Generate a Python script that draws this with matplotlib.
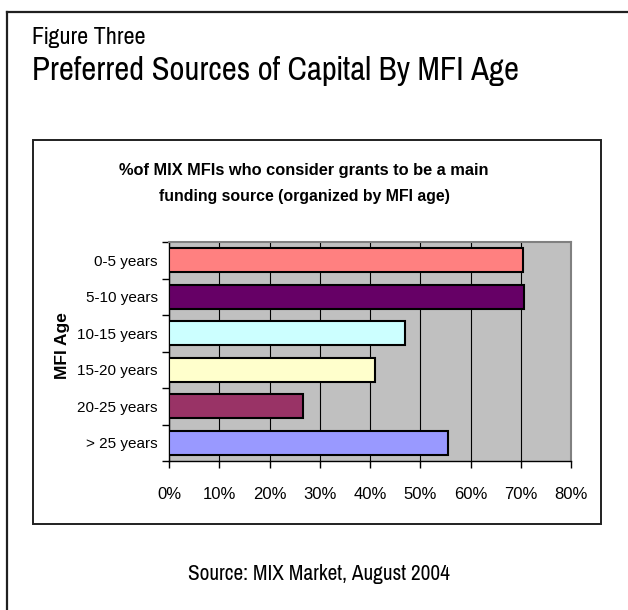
import matplotlib
matplotlib.use("Agg")
import matplotlib.pyplot as plt
from matplotlib import font_manager
from matplotlib.font_manager import FontProperties
from matplotlib.textpath import TextPath
from matplotlib.patches import Rectangle
from matplotlib.lines import Line2D
import numpy as np

categories = ["0-5 years", "5-10 years", "10-15 years", "15-20 years", "20-25 years", "> 25 years"]
values = [70.4, 70.7, 46.9, 40.9, 26.6, 55.5]
colors = ["#FF8080", "#660066", "#CCFFFF", "#FFFFCC", "#993366", "#9999FF"]
xticks = [0, 10, 20, 30, 40, 50, 60, 70, 80]
xtick_labels = [f"{v}%" for v in xticks]

TITLE = "Preferred Sources of Capital By MFI Age"

names = {f.name for f in font_manager.fontManager.ttflist}
candidates = ["Liberation Sans Narrow", "Arial Narrow", "Pragati Narrow", "Roboto Condensed",
              "Archivo Narrow", "PT Sans Narrow", "Fira Sans Condensed", "IBM Plex Sans Condensed",
              "Encode Sans Condensed", "Open Sans Condensed", "Sofia Sans Condensed",
              "Barlow Semi Condensed", "Asap Condensed", "Roboto", "Liberation Sans"]


def cap_ratio(family):
    # ratio of cap height to text width for the title, measured on glyph outlines
    prop = FontProperties(family=family)
    w = TextPath((0, 0), TITLE, size=100, prop=prop).get_extents().width
    h = TextPath((0, 0), "P", size=100, prop=prop).get_extents().height
    return h / w


target_ratio = 23.0 / 486.0
narrow = "Liberation Sans"
best = None
for cand in candidates:
    if cand not in names:
        continue
    try:
        r = cap_ratio(cand)
    except Exception:
        continue
    err = abs(np.log(r / target_ratio))
    if best is None or err < best:
        best = err
        narrow = cand
sans = "Liberation Sans"

W, H = 628, 610
fig = plt.figure(figsize=(W / 100, H / 100), dpi=100)
fig.patch.set_facecolor("white")


def fx(x):
    return x / W


def fy(y):
    return 1 - y / H


# outer frame
fig.add_artist(Line2D([fx(7), fx(628)], [fy(12), fy(12)], color="#202020", lw=1.6, transform=fig.transFigure))
fig.add_artist(Line2D([fx(7), fx(7)], [fy(12), fy(610)], color="#202020", lw=1.6, transform=fig.transFigure))

# inner chart box
fig.add_artist(Rectangle((fx(33), fy(524)), fx(601) - fx(33), fy(140) - fy(524), fill=False,
                         edgecolor="#202020", lw=1.4, transform=fig.transFigure))

renderer = fig.canvas.get_renderer()


def fit_text(x, y, s, target_w, fs, ha="left", **kw):
    t = fig.text(fx(x), fy(y), s, fontsize=fs, ha=ha, va="center", **kw)
    w = t.get_window_extent(renderer=renderer).width
    if w > 0:
        t.set_fontsize(fs * target_w / w)
    return t


fit_text(32, 37, "Figure Three", 114, 15, family=narrow)
fit_text(32, 71, TITLE, 486, 23, family=narrow)
fit_text(319, 574, "Source: MIX Market, August 2004", 262, 15, ha="center", family=narrow)

fit_text(304, 170, "%of MIX MFIs who consider grants to be a main", 370, 12, ha="center",
         family=sans, fontweight="bold")
fit_text(304, 196, "funding source (organized by MFI age)", 290, 12, ha="center",
         family=sans, fontweight="bold")

ax = fig.add_axes([fx(169), fy(461), fx(571) - fx(169), fy(242) - fy(461)])
ax.set_facecolor("#C0C0C0")
y = np.arange(len(categories))
ax.barh(y, values, height=0.66, color=colors, edgecolor="black", linewidth=1.5, zorder=3)
ax.set_xlim(0, 80)
ax.set_ylim(len(categories) - 0.5, -0.5)
ax.set_xticks(xticks)
ax.set_xticklabels(xtick_labels, family=sans, fontsize=12)
ax.set_yticks(y)
ax.set_yticklabels(categories, family=sans, fontsize=11)
ax.tick_params(axis="y", length=0, pad=8)
ax.set_yticks(np.arange(len(categories) + 1) - 0.5, minor=True)
ax.tick_params(axis="y", which="minor", length=5, width=1, direction="out")
ax.tick_params(axis="x", length=5, width=1, direction="out", pad=14)
ax.grid(axis="x", color="black", lw=0.8, zorder=1)
ax.set_axisbelow(True)
for s in ["top", "right"]:
    ax.spines[s].set_color("#808080")
    ax.spines[s].set_linewidth(1.5)
for s in ["left", "bottom"]:
    ax.spines[s].set_color("black")
    ax.spines[s].set_linewidth(1.0)
ax.set_ylabel("MFI Age", family=sans, fontsize=12.5, fontweight="bold")
ax.yaxis.set_label_coords(-(169 - 63) / (571 - 169), (461 - 346) / (461 - 242))
ax.yaxis.label.set_va("center")

fig.savefig("out.png", dpi=100, facecolor="white")
